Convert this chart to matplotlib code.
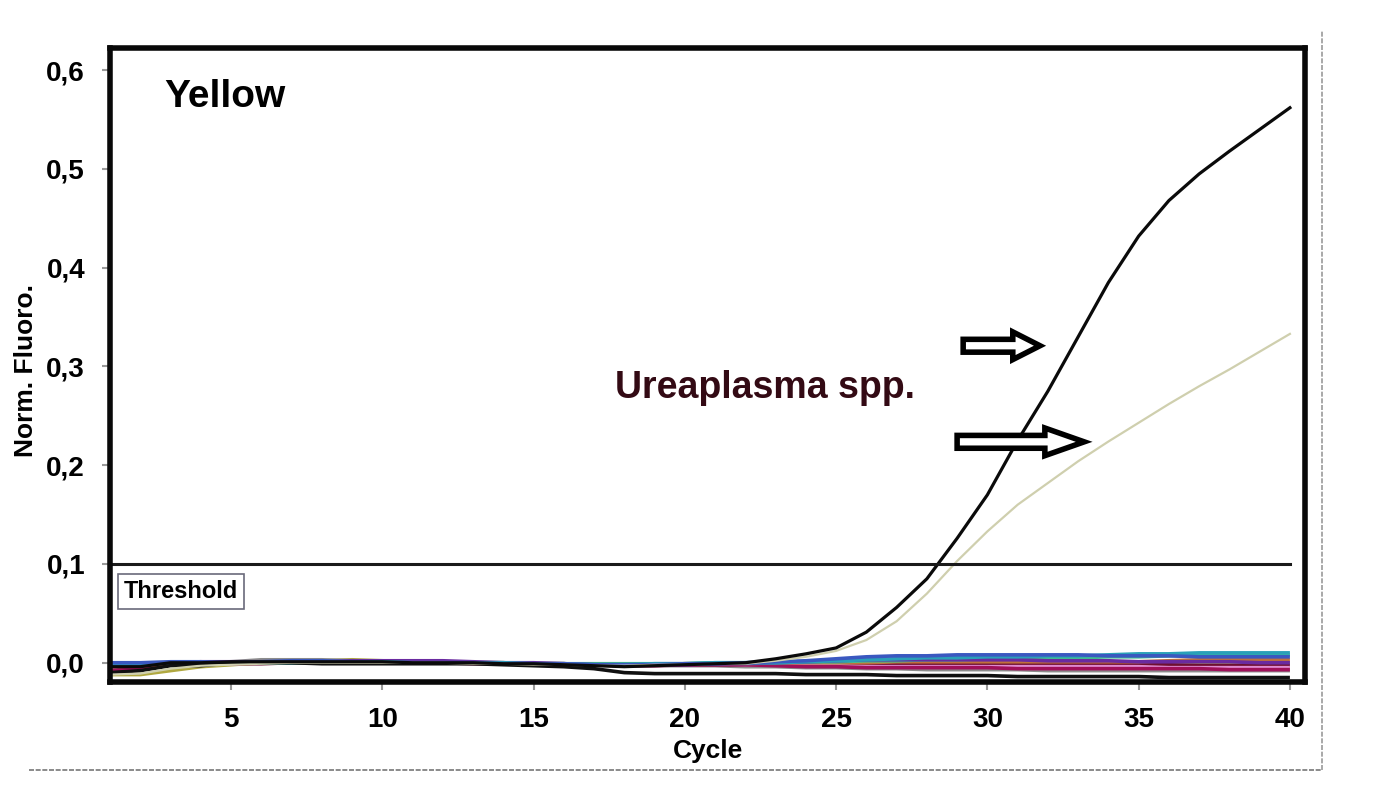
import matplotlib
matplotlib.use("Agg")
import matplotlib.pyplot as plt
from matplotlib import font_manager
from matplotlib.patches import FancyArrow
from matplotlib.lines import Line2D

names = {f.name for f in font_manager.fontManager.ttflist}
fam = 'Liberation Sans Narrow' if 'Liberation Sans Narrow' in names else 'Liberation Sans'
plt.rcParams['font.family'] = [fam, 'DejaVu Sans']
plt.rcParams['font.weight'] = 'bold'

cycles = list(range(1, 41))

# positive samples
strong = [-0.004, -0.004, 0.0, 0.0, 0.001, 0.001, 0.001, 0.001, 0.001, 0.001,
          0.0, 0.0, 0.0, -0.001, -0.001, -0.002, -0.003, -0.004, -0.003, -0.002,
          -0.001, 0.0, 0.004, 0.009, 0.015, 0.031, 0.056, 0.085, 0.126, 0.170,
          0.225, 0.275, 0.330, 0.385, 0.432, 0.468, 0.495, 0.518, 0.540, 0.562]
weak = [-0.012, -0.011, -0.006, -0.003, -0.002, -0.001, 0.0, 0.0, 0.0, 0.0,
        0.0, 0.0, -0.001, -0.001, -0.002, -0.002, -0.003, -0.003, -0.002, -0.002,
        -0.001, -0.001, 0.002, 0.006, 0.012, 0.023, 0.042, 0.070, 0.103, 0.133,
        0.160, 0.182, 0.204, 0.224, 0.243, 0.262, 0.280, 0.297, 0.315, 0.333]

# negative samples (baselines)
neg_blue = [0.0, 0.0, 0.001, 0.001, 0.0, 0.001, 0.002, 0.002, 0.001, 0.0,
            0.0, 0.0, 0.0, -0.001, -0.001, -0.001, -0.002, -0.002, -0.002, -0.001,
            -0.001, 0.0, 0.001, 0.002, 0.004, 0.006, 0.007, 0.007, 0.008, 0.008,
            0.008, 0.008, 0.008, 0.007, 0.007, 0.007, 0.006, 0.006, 0.006, 0.006]
neg_purple = [-0.003, -0.002, 0.0, 0.001, 0.001, 0.001, 0.001, 0.001, 0.002, 0.002,
              0.002, 0.002, 0.001, 0.0, 0.0, -0.001, -0.002, -0.002, -0.002, -0.002,
              -0.001, -0.001, 0.0, 0.001, 0.002, 0.003, 0.003, 0.003, 0.003, 0.003,
              0.003, 0.002, 0.002, 0.002, 0.001, 0.001, 0.001, 0.001, 0.0, 0.0]
neg_teal = [-0.002, -0.001, 0.0, 0.0, 0.0, 0.0, 0.0, 0.001, 0.001, 0.001,
            0.0, 0.0, 0.0, 0.0, -0.001, -0.001, -0.002, -0.002, -0.001, -0.001,
            0.0, 0.0, 0.0, 0.001, 0.002, 0.003, 0.004, 0.005, 0.005, 0.006,
            0.006, 0.007, 0.007, 0.008, 0.009, 0.009, 0.010, 0.010, 0.010, 0.010]
neg_pink = [-0.006, -0.004, -0.002, -0.001, -0.001, 0.0, 0.0, 0.001, 0.001, 0.001,
            0.001, 0.001, 0.0, -0.001, -0.001, -0.001, -0.002, -0.002, -0.001, -0.001,
            -0.001, -0.002, -0.002, -0.003, -0.003, -0.004, -0.004, -0.004, -0.004, -0.004,
            -0.004, -0.004, -0.004, -0.004, -0.004, -0.005, -0.005, -0.005, -0.005, -0.005]
neg_crimson = [-0.008, -0.005, -0.002, 0.0, 0.0, 0.0, 0.0, 0.0, 0.0, 0.001,
               0.001, 0.001, 0.0, -0.001, -0.002, -0.002, -0.002, -0.003, -0.003, -0.002,
               -0.002, -0.002, -0.003, -0.004, -0.004, -0.005, -0.005, -0.005, -0.005, -0.005,
               -0.006, -0.006, -0.006, -0.006, -0.006, -0.006, -0.006, -0.007, -0.007, -0.007]
neg_darkred = [-0.004, -0.002, 0.0, 0.0, -0.001, -0.001, 0.0, 0.0, 0.0, 0.0,
               0.0, 0.0, -0.001, -0.001, -0.002, -0.002, -0.002, -0.002, -0.002, -0.002,
               -0.002, -0.002, -0.002, -0.002, -0.002, -0.002, -0.002, -0.002, -0.002, -0.002,
               -0.002, -0.002, -0.002, -0.002, -0.002, -0.002, -0.003, -0.003, -0.003, -0.003]
neg_olive = [-0.012, -0.012, -0.008, -0.004, -0.002, 0.0, 0.001, 0.002, 0.003, 0.002,
             0.001, 0.0, 0.0, 0.0, -0.001, -0.001, -0.002, -0.002, -0.002, -0.001,
             -0.001, -0.001, 0.0, 0.0, 0.0, 0.0, 0.0, 0.0, 0.0, 0.0,
             0.0, 0.0, 0.0, 0.0, 0.0, 0.0, 0.0, 0.0, 0.0, 0.0]
neg_grey = [-0.006, -0.004, -0.002, 0.0, 0.001, 0.003, 0.003, 0.003, 0.002, 0.001,
            0.001, 0.0, 0.0, 0.0, -0.001, -0.001, -0.002, -0.003, -0.003, -0.003,
            -0.003, -0.004, -0.004, -0.005, -0.005, -0.006, -0.006, -0.007, -0.007, -0.007,
            -0.007, -0.008, -0.008, -0.008, -0.008, -0.008, -0.008, -0.008, -0.008, -0.008]
neg_orange = [-0.004, -0.003, -0.001, 0.0, 0.0, 0.0, 0.0, 0.0, 0.0, 0.0,
              0.0, 0.0, 0.0, -0.001, -0.001, -0.001, -0.002, -0.002, -0.002, -0.001,
              -0.001, -0.001, 0.0, 0.0, 0.0, 0.0, 0.001, 0.001, 0.001, 0.001,
              0.001, 0.001, 0.001, 0.001, 0.001, 0.002, 0.003, 0.003, 0.003, 0.003]
neg_green = [-0.002, -0.001, 0.0, 0.0, 0.0, 0.0, 0.0, 0.0, 0.0, 0.0,
             0.0, 0.0, 0.0, 0.0, -0.001, -0.001, -0.001, -0.001, -0.001, -0.001,
             0.0, 0.0, 0.0, 0.001, 0.001, 0.002, 0.002, 0.003, 0.003, 0.004,
             0.004, 0.005, 0.005, 0.006, 0.006, 0.007, 0.008, 0.008, 0.008, 0.008]
neg_black = [-0.010, -0.008, -0.003, -0.003, 0.0, 0.0, 0.0, -0.001, -0.001, -0.001,
             -0.001, -0.001, -0.001, -0.002, -0.003, -0.004, -0.006, -0.010, -0.011, -0.011,
             -0.011, -0.011, -0.011, -0.012, -0.012, -0.012, -0.013, -0.013, -0.013, -0.013,
             -0.014, -0.014, -0.014, -0.014, -0.014, -0.015, -0.015, -0.015, -0.015, -0.015]

negatives = [(neg_olive, '#b0a840'), (neg_grey, '#8c8c8c'), (neg_darkred, '#6e1030'),
             (neg_pink, '#e08ad0'), (neg_crimson, '#a0105a'), (neg_orange, '#c0703c'),
             (neg_green, '#40c090'), (neg_purple, '#6a2aa0'), (neg_teal, '#2aa0b8'),
             (neg_blue, '#3a58c0'), (neg_black, '#101010')]

threshold = 0.1
xticks = [5, 10, 15, 20, 25, 30, 35, 40]
yticks = [0.0, 0.1, 0.2, 0.3, 0.4, 0.5, 0.6]
ytick_labels = ['0,0', '0,1', '0,2', '0,3', '0,4', '0,5', '0,6']

fig = plt.figure(figsize=(13.98, 8.0), dpi=100)
ax = fig.add_axes([0.0787, 0.1475, 0.8548, 0.7925])

for vals, col in negatives:
    ax.plot(cycles, vals, color=col, lw=2.6, solid_capstyle='butt')
ax.plot(cycles, weak, color='#cfcfae', lw=1.6)
ax.plot(cycles, strong, color='#0a0a0a', lw=2.3)
ax.plot([cycles[0], cycles[-1]], [threshold, threshold], color='#1a1a1a', lw=2.2)

ax.set_xlim(1.0, 40.5)
ax.set_ylim(-0.0195, 0.6225)
ax.set_xticks(xticks)
ax.set_yticks(yticks)
ax.set_yticklabels(ytick_labels)
ax.tick_params(direction='out', length=6, width=1.5, color='#9a9a9a',
               labelsize=20, pad=12)
for lab in ax.get_xticklabels() + ax.get_yticklabels():
    lab.set_fontweight('bold')
for s in ax.spines.values():
    s.set_linewidth(4)
    s.set_color('#080808')

ax.set_xlabel('Cycle', fontsize=19, fontweight='bold', labelpad=4)
ax.set_ylabel('Norm. Fluoro.', fontsize=19, fontweight='bold')
ax.yaxis.set_label_coords(-0.060, 0.492)

ax.text(2.79, 0.573, 'Yellow', fontsize=28, fontweight='heavy', va='center', ha='left')
ax.text(17.7, 0.278, 'Ureaplasma spp.', fontsize=27, fontweight='bold', va='center',
        ha='left', color='#330a14')
ax.text(1.45, 0.072, 'Threshold', fontsize=17, fontweight='bold', va='center', ha='left',
        bbox=dict(boxstyle='square,pad=0.25', fc='white', ec='#6a6a7a', lw=1.2))

for x0, y0, dx, hl in [(29.2, 0.321, 2.54, 0.9), (29.0, 0.2237, 4.2, 1.3)]:
    ax.add_patch(FancyArrow(x0, y0, dx, 0, width=0.013, head_width=0.028,
                            head_length=hl, length_includes_head=True,
                            fc='white', ec='black', lw=4, zorder=5))

# outer page frame
fig.add_artist(Line2D([0.021, 0.9456], [0.0375, 0.0375], color='#777777', lw=1.2,
                      linestyle=(0, (3, 1))))
fig.add_artist(Line2D([0.9456, 0.9456], [0.0375, 0.962], color='#999999', lw=1.2,
                      linestyle=(0, (3, 1))))

fig.savefig('out.png', dpi=100)
